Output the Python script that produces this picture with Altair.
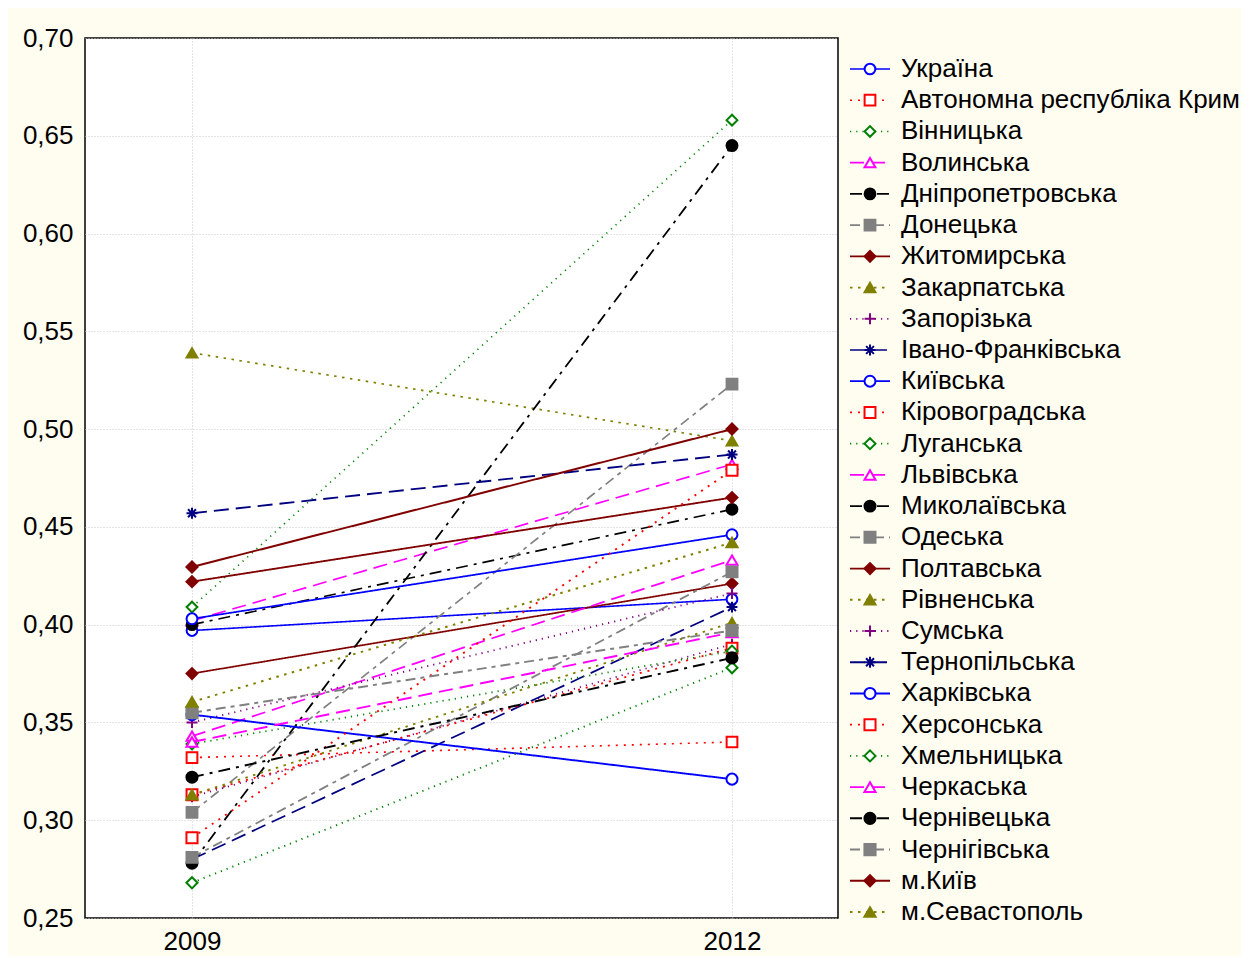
import altair as alt
import pandas as pd

# ---- data ----
names = [
    "Україна", "Автономна республіка Крим", "Вінницька", "Волинська",
    "Дніпропетровська", "Донецька", "Житомирська", "Закарпатська",
    "Запорізька", "Івано-Франківська", "Київська", "Кіровоградська",
    "Луганська", "Львівська", "Миколаївська", "Одеська", "Полтавська",
    "Рівненська", "Сумська", "Тернопільська", "Харківська", "Херсонська",
    "Хмельницька", "Черкаська", "Чернівецька", "Чернігівська", "м.Київ",
    "м.Севастополь",
]
v2009 = [0.397, 0.332, 0.409, 0.402, 0.400, 0.304, 0.375, 0.539,
         0.312, 0.280, 0.403, 0.313, 0.339, 0.343, 0.278, 0.281, 0.422,
         0.313, 0.350, 0.457, 0.354, 0.291, 0.268, 0.340, 0.322, 0.355,
         0.4295, 0.3605]
v2012 = [0.413, 0.340, 0.658, 0.482, 0.459, 0.523, 0.421, 0.494,
         0.390, 0.409, 0.446, 0.388, 0.3865, 0.433, 0.645, 0.427, 0.465,
         0.401, 0.416, 0.487, 0.321, 0.479, 0.378, 0.396, 0.383, 0.397,
         0.500, 0.442]
years = [2009, 2012]
y_ticks = [0.25, 0.30, 0.35, 0.40, 0.45, 0.50, 0.55, 0.60, 0.65, 0.70]

# ---- styles (cycle of 10) ----
PLUS = "M-1,0L1,0M0,-1L0,1"
STAR = "M-1,0L1,0M0,-1L0,1M-0.72,-0.72L0.72,0.72M-0.72,0.72L0.72,-0.72"
style_color = ["#0000ff", "#ff0000", "#008000", "#ff00ff", "#000000",
               "#808080", "#800000", "#808000", "#800080", "#000080"]
style_fill = ["#ffffff", "#ffffff", "#ffffff", "#ffffff", "#000000",
              "#808080", "#800000", "#808000", "#800080", "#000080"]
style_shape = ["circle", "square", "diamond", "triangle-up", "circle",
               "square", "diamond", "triangle-up", PLUS, STAR]
style_size = [115, 125, 150, 150, 165, 180, 185, 200, 170, 190]
style_dash = [[1, 0], [2, 6], [1.2, 5], [14, 7], [12, 6, 3, 6],
              [10, 5, 4, 5], [1, 0], [2.5, 5.5], [1.2, 5], [15, 7]]
style_lw = [1.6, 2, 1.2, 2, 2, 2, 2, 2.5, 1.2, 2.5]
style_op = [1, 1, 0.45, 1, 1, 1, 1, 1, 0.45, 1]

n = len(names)
colors = [style_color[i % 10] for i in range(n)]
fills = [style_fill[i % 10] for i in range(n)]
shapes = [style_shape[i % 10] for i in range(n)]
sizes = [style_size[i % 10] for i in range(n)]
dashes = [style_dash[i % 10] for i in range(n)]
lws = [style_lw[i % 10] for i in range(n)]
ops = [style_op[i % 10] for i in range(n)]

rows = []
for i, nm in enumerate(names):
    rows.append({"name": nm, "idx": i, "year": years[0], "value": v2009[i]})
    rows.append({"name": nm, "idx": i, "year": years[1], "value": v2012[i]})
df = pd.DataFrame(rows)
leg = pd.DataFrame({"name": names, "idx": list(range(n))})

FONT = "Liberation Sans"
FS = 26

stroke_enc = alt.Stroke("name:N", scale=alt.Scale(domain=names, range=colors), legend=None)
fill_enc = alt.Fill("name:N", scale=alt.Scale(domain=names, range=fills), legend=None)
shape_enc = alt.Shape("name:N", scale=alt.Scale(domain=names, range=shapes), legend=None)
size_enc = alt.Size("name:N", scale=alt.Scale(domain=names, range=sizes), legend=None)
dash_enc = alt.StrokeDash("name:N", scale=alt.Scale(domain=names, range=dashes), legend=None)
lw_enc = alt.StrokeWidth("name:N", scale=alt.Scale(domain=names, range=lws), legend=None)
op_enc = alt.StrokeOpacity("name:N", scale=alt.Scale(domain=names, range=ops), legend=None)

x_scale = alt.Scale(domain=[2008.4056, 2012.5889], nice=False, zero=False)
x_enc = alt.X(
    "year:Q",
    scale=x_scale,
    axis=alt.Axis(values=years, format="d", title=None, grid=True,
                  gridColor="#c8c8c8", gridDash=[1, 2], domain=False,
                  ticks=False, labelPadding=10, labelFontSize=FS,
                  labelFont=FONT, labelColor="black"),
)
y_scale = alt.Scale(domain=[0.25, 0.70], nice=False, zero=False)
y_axis = alt.Axis(values=y_ticks, title=None, grid=True, gridColor="#c8c8c8",
                  gridDash=[1, 2], domain=False, ticks=False, labelPadding=12,
                  labelFontSize=FS, labelFont=FONT, labelColor="black",
                  labelExpr="replace(format(datum.value, '.2f'), '.', ',')")

lines = alt.Chart(df).mark_line(strokeCap="butt").encode(
    x=x_enc,
    y=alt.Y("value:Q", scale=y_scale, axis=y_axis),
    stroke=stroke_enc, strokeDash=dash_enc, strokeWidth=lw_enc,
    strokeOpacity=op_enc,
    order=alt.Order("year:Q"),
)

points = alt.Chart(df).mark_point(opacity=1, fillOpacity=1, strokeOpacity=1,
                                  strokeWidth=2).encode(
    x=alt.X("year:Q", scale=x_scale),
    y=alt.Y("value:Q", scale=y_scale, axis=None),
    stroke=stroke_enc, fill=fill_enc, shape=shape_enc, size=size_enc,
)

leg_y = alt.Y("name:N", sort=names,
              scale=alt.Scale(type="point", range=[31, 874], padding=0),
              axis=None)

leg_rule = alt.Chart(leg).mark_rule(strokeCap="butt").encode(
    x=alt.value(765), x2=alt.value(805), y=leg_y,
    stroke=stroke_enc, strokeDash=dash_enc, strokeWidth=lw_enc,
    strokeOpacity=op_enc,
)
leg_pts = alt.Chart(leg).mark_point(opacity=1, fillOpacity=1, strokeOpacity=1,
                                    strokeWidth=2).encode(
    x=alt.value(785), y=leg_y,
    stroke=stroke_enc, fill=fill_enc, shape=shape_enc, size=size_enc,
)
leg_text = alt.Chart(leg).mark_text(align="left", baseline="middle",
                                    font=FONT, fontSize=FS, color="black").encode(
    x=alt.value(816), y=leg_y, text="name:N",
)

chart = alt.layer(lines, points, leg_rule, leg_pts, leg_text).resolve_scale(
    y="independent"
).properties(
    width=753, height=880,
    autosize=alt.AutoSizeParams(type="none"),
    padding={"left": 77, "top": 30, "right": 403, "bottom": 38},
    background="#fffcf0",
).configure_view(stroke="black", strokeWidth=1.5, fill="white")

chart.save("out.html", embed_options={"renderer": "svg", "actions": False})
